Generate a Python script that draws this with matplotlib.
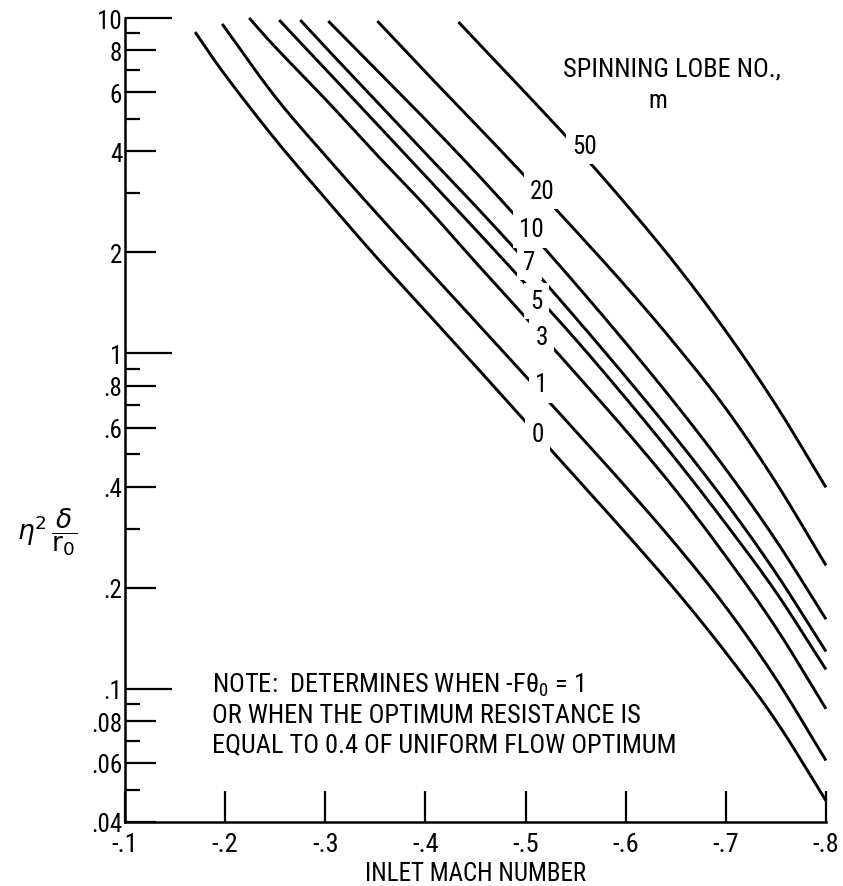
import matplotlib
matplotlib.use("Agg")
import numpy as np
import matplotlib.pyplot as plt
from matplotlib import font_manager as fm

# ---------------- data ----------------
m0_mach = [-0.170, -0.20, -0.25, -0.30, -0.35, -0.40, -0.45, -0.50, -0.55, -0.60, -0.65, -0.70, -0.75, -0.80]
m0_val = [9.08, 6.76, 4.345, 2.897, 1.950, 1.337, 0.916, 0.625, 0.427, 0.291, 0.196, 0.128, 0.0802, 0.0463]

m1_mach = [-0.197, -0.25, -0.30, -0.35, -0.40, -0.45, -0.50, -0.55, -0.60, -0.65, -0.70, -0.75, -0.80]
m1_val = [9.6, 5.82, 3.89, 2.64, 1.81, 1.245, 0.855, 0.586, 0.400, 0.269, 0.175, 0.107, 0.061]

m3_mach = [-0.224, -0.25, -0.30, -0.35, -0.40, -0.45, -0.50, -0.55, -0.60, -0.65, -0.70, -0.75, -0.80]
m3_val = [10.0, 8.19, 5.73, 3.95, 2.75, 1.87, 1.28, 0.871, 0.589, 0.390, 0.248, 0.152, 0.087]

m5_mach = [-0.254, -0.30, -0.35, -0.40, -0.45, -0.50, -0.55, -0.60, -0.65, -0.70, -0.75, -0.80]
m5_val = [9.86, 7.05, 4.88, 3.38, 2.34, 1.61, 1.10, 0.735, 0.483, 0.310, 0.194, 0.114]

m7_mach = [-0.275, -0.30, -0.35, -0.40, -0.45, -0.50, -0.55, -0.60, -0.65, -0.70, -0.75, -0.80]
m7_val = [9.86, 8.19, 5.69, 3.95, 2.75, 1.89, 1.276, 0.851, 0.560, 0.359, 0.221, 0.129]

m10_mach = [-0.303, -0.35, -0.40, -0.45, -0.50, -0.55, -0.60, -0.65, -0.70, -0.75, -0.80]
m10_val = [9.79, 7.06, 4.98, 3.47, 2.38, 1.61, 1.074, 0.705, 0.451, 0.277, 0.161]

m20_mach = [-0.352, -0.40, -0.45, -0.50, -0.55, -0.60, -0.65, -0.70, -0.75, -0.80]
m20_val = [9.79, 6.90, 4.83, 3.36, 2.32, 1.585, 1.059, 0.684, 0.412, 0.233]

m50_mach = [-0.433, -0.45, -0.50, -0.55, -0.60, -0.65, -0.70, -0.75, -0.80]
m50_val = [9.73, 8.59, 5.98, 4.13, 2.79, 1.84, 1.164, 0.701, 0.398]

lobe_labels = ["0", "1", "3", "5", "7", "10", "20", "50"]
label_mach = [-0.512, -0.516, -0.516, -0.511, -0.504, -0.506, -0.517, -0.559]
label_val = [0.573, 0.808, 1.12, 1.43, 1.87, 2.34, 3.05, 4.15]

y_major = [0.04, 0.06, 0.08, 0.1, 0.2, 0.4, 0.6, 0.8, 1, 2, 4, 6, 8, 10]
y_major_labels = [".04", ".06", ".08", ".1", ".2", ".4", ".6", ".8", "1", "2", "4", "6", "8", "10"]
y_minor = [0.05, 0.07, 0.09, 0.3, 0.5, 0.7, 0.9, 3, 5, 7, 9]
x_ticks = [-0.1, -0.2, -0.3, -0.4, -0.5, -0.6, -0.7, -0.8]
x_tick_labels = ["-.1", "-.2", "-.3", "-.4", "-.5", "-.6", "-.7", "-.8"]

# ---------------- font ----------------
def pick_font(cands):
    for c in cands:
        try:
            fm.findfont(fm.FontProperties(family=c), fallback_to_default=False)
            return c
        except Exception:
            continue
    return "DejaVu Sans"

FONT = pick_font(["Liberation Sans Narrow", "DejaVu Sans Condensed", "Roboto Condensed", "Open Sans Condensed", "Liberation Sans"])
plt.rcParams["font.family"] = [FONT, "DejaVu Sans"]
plt.rcParams["mathtext.fontset"] = "dejavusans"


def smooth_path(xs, ys, n=24):
    """Catmull-Rom drawing path through the read points (x, log10 y)."""
    pts = np.column_stack([np.asarray(xs, float), np.log10(np.asarray(ys, float))])
    P = np.vstack([2 * pts[0] - pts[1], pts, 2 * pts[-1] - pts[-2]])
    out = []
    t = np.linspace(0, 1, n, endpoint=False)[:, None]
    for i in range(1, len(P) - 2):
        p0, p1, p2, p3 = P[i - 1], P[i], P[i + 1], P[i + 2]
        seg = 0.5 * (2 * p1 + (-p0 + p2) * t + (2 * p0 - 5 * p1 + 4 * p2 - p3) * t ** 2
                     + (-p0 + 3 * p1 - 3 * p2 + p3) * t ** 3)
        out.append(seg)
    out.append(pts[-1:])
    arr = np.vstack(out)
    return arr[:, 0], 10 ** arr[:, 1]


W, H = 843, 887
fig = plt.figure(figsize=(W / 100, H / 100), dpi=100)
ax = fig.add_axes([125 / W, 1 - 823 / H, (826 - 125) / W, (823 - 19) / H])

curves = [(m0_mach, m0_val), (m1_mach, m1_val), (m3_mach, m3_val), (m5_mach, m5_val),
          (m7_mach, m7_val), (m10_mach, m10_val), (m20_mach, m20_val), (m50_mach, m50_val)]
for xs, ys in curves:
    sx, sy = smooth_path(xs, ys)
    ax.plot(sx, sy, color="black", lw=2.1, solid_capstyle="butt", zorder=2, clip_on=False)

for lab, lx, ly in zip(lobe_labels, label_mach, label_val):
    ax.text(lx, ly, lab, ha="center", va="center", fontsize=18, zorder=4,
            bbox=dict(facecolor="white", edgecolor="none", pad=4.5))

ax.set_yscale("log")
ax.set_xlim(-0.1, -0.8)
ax.set_ylim(0.04, 10)

ax.set_yticks(y_major)
ax.set_yticklabels(y_major_labels)
ax.set_yticks(y_minor, minor=True)
ax.yaxis.set_minor_formatter(plt.NullFormatter())
ax.set_xticks(x_ticks)
ax.set_xticklabels(x_tick_labels)

for s in ["top", "right"]:
    ax.spines[s].set_visible(False)
for s in ["left", "bottom"]:
    ax.spines[s].set_linewidth(1.8)

ax.tick_params(axis="y", which="major", direction="in", length=22, width=1.6, labelsize=18, pad=2)
ax.tick_params(axis="y", which="minor", direction="in", length=11, width=1.6)
ax.tick_params(axis="x", which="major", direction="in", length=22, width=1.6, labelsize=19, pad=7)

for t, v in zip(ax.yaxis.get_major_ticks(), y_major):
    if v in (0.1, 1, 10):
        t.tick1line.set_markersize(34)

ax.set_xlabel("INLET MACH NUMBER", fontsize=18, labelpad=4)

fig.text(47 / W, 1 - 532 / H, r"$\eta^2\,\dfrac{\delta}{\mathrm{r}_0}$", fontsize=19, ha="center", va="center")

fig.text(672 / W, 1 - 69 / H, "SPINNING LOBE NO.,", fontsize=19, ha="center", va="center")
fig.text(658 / W, 1 - 101 / H, "m", fontsize=18, ha="center", va="center")

note = ("NOTE:  DETERMINES WHEN -F\u03b8$_\\mathregular{0}$ = 1\n"
        "OR WHEN THE OPTIMUM RESISTANCE IS\n"
        "EQUAL TO 0.4 OF UNIFORM FLOW OPTIMUM")
fig.text(212 / W, 1 - 672 / H, note, fontsize=19, ha="left", va="top", linespacing=1.25)

fig.savefig("out.png", dpi=100)
